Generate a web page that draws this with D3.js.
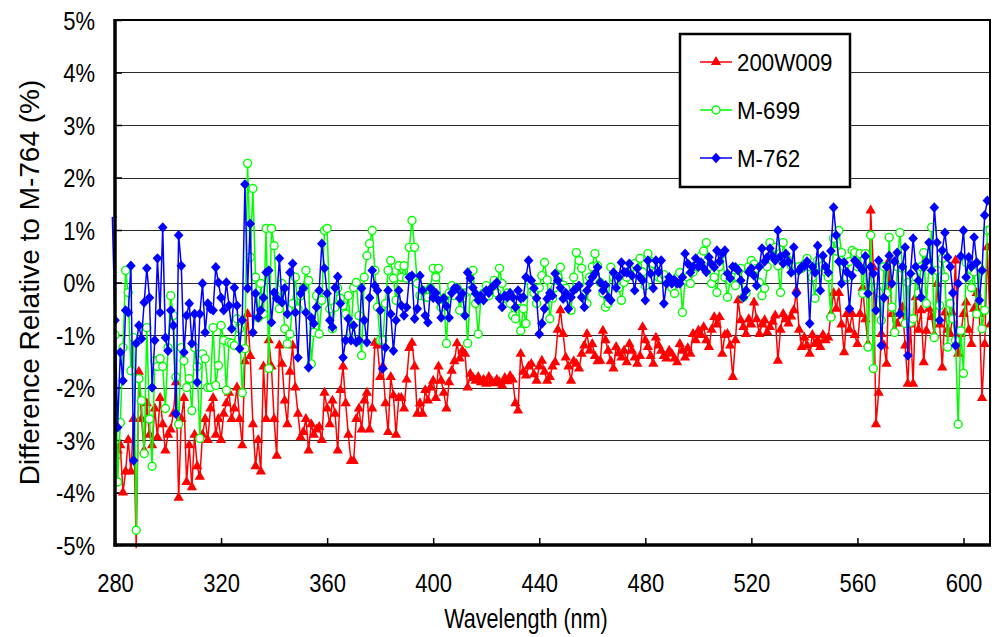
<!DOCTYPE html>
<html>
<head>
<meta charset="utf-8">
<script src="https://cdn.jsdelivr.net/npm/d3@7"></script>
<style>
  body { margin: 0; background: #fff; }
  text { font-family: "Liberation Sans", Arial, sans-serif; fill: #000; }
</style>
</head>
<body>
<div id="chart"></div>
<script>
// wavelength of the first sample of each series, then one sample per nm
const startNm = [280, 280, 279];
const xTicks = [280, 320, 360, 400, 440, 480, 520, 560, 600];
const yTicks = [-5, -4, -3, -2, -1, 0, 1, 2, 3, 4, 5];
const seriesNames = ['200W009', 'M-699', 'M-762'];

// 200W009 (% difference)
const red = [
  -3.3, -3.2, -3.1, -4.0, -3.6, -3.0, -3.6, -2.6, -5.05, -1.7,
  -2.6, -3.2, -2.3, -2.9, -3.1, -2.4, -2.95, -2.2, -2.7, -3.2,
  -2.9, -2.8, -2.5, -1.9, -4.1, -2.6, -2.2, -3.8, -3.1, -3.9,
  -2.9, -3.5, -3.7, -2.9, -2.6, -3.0, -2.4, -2.2, -2.9, -2.6,
  -3.0, -2.5, -2.3, -2.1, -2.6, -2.4, -2.0, -2.6, -3.1, -1.5,
  -0.6, -1.4, -2.7, -3.5, -3.0, -3.6, -1.6, -2.6, -1.1, -1.6,
  -2.6, -3.3, -1.2, -1.55, -2.25, -2.7, -1.7, -1.2, -2.0, -2.5,
  -2.95, -2.85, -2.6, -3.2, -2.7, -2.9, -2.8, -2.75, -3.0, -2.1,
  -2.4, -2.7, -2.25, -2.5, -3.2, -2.05, -1.6, -2.3, -2.9, -3.4,
  -3.4, -2.6, -2.4, -2.8, -2.25, -2.1, -2.8, -2.4, -1.15, -1.2,
  -1.8, -1.6, -2.3, -2.85, -1.8, -2.15, -2.9, -2.2, -2.2, -2.4,
  -1.85, -1.25, -1.15, -1.6, -2.5, -2.3, -2.5, -2.05, -2.25, -2.0,
  -1.87, -2.2, -1.6, -1.87, -2.1, -2.4, -1.9, -1.68, -1.5, -1.16,
  -1.45, -1.3, -1.36, -2.0, -1.74, -1.82, -1.87, -1.8, -1.9, -1.85,
  -1.93, -1.8, -1.88, -1.92, -1.85, -1.9, -1.96, -1.82, -1.88, -1.78,
  -1.85, -2.3, -2.44, -1.36, -1.7, -1.77, -1.6, -1.55, -1.75, -1.87,
  -1.6, -1.49, -1.7, -1.87, -1.8, -1.6, -1.52, -0.9, -0.53, -0.98,
  -1.43, -1.6, -1.87, -1.5, -1.55, -1.64, -1.36, -1.2, -0.98, -1.3,
  -1.17, -1.4, -1.5, -1.49, -0.92, -1.1, -1.3, -1.5, -1.64, -1.23,
  -1.35, -1.43, -1.3, -1.52, -1.17, -1.3, -1.43, -1.55, -1.4, -0.85,
  -1.1, -1.23, -1.4, -1.55, -1.05, -1.2, -1.3, -1.4, -1.45, -1.3,
  -1.36, -1.45, -1.52, -1.17, -1.3, -1.43, -1.25, -1.36, -0.98, -1.1,
  -0.92, -1.0, -0.85, -1.1, -1.23, -0.9, -0.66, -0.8, -0.66, -1.36,
  -1.0, -0.98, -1.2, -1.8, -1.1, -0.34, -0.72, -0.85, -0.98, -0.7,
  -0.8, -0.38, -0.7, -0.98, -0.8, -0.72, -0.95, -0.85, -0.75, -0.63,
  -1.49, -0.9, -0.6, -0.7, -0.78, -0.65, -0.53, -0.15, -0.9, -1.23,
  -1.05, -1.2, -1.36, -1.0, -1.17, -1.1, -1.23, -1.0, -1.1, -1.05,
  -0.6, -0.2, -0.5, -0.2, -0.8, -1.33, -0.6, -0.9, -0.6, -1.0,
  -1.17, -0.6, -0.1, -0.7, -1.17, 1.37, 0.29, -2.7, -2.1, -0.98,
  -1.2, -1.55, 0.42, -0.6, -0.9, -0.78, -0.6, -0.47, -1.2, -1.93,
  -0.8, -1.93, -0.28, -0.9, -0.53, -1.52, -0.92, -0.5, -0.66, -1.0,
  -0.03, -0.8, -1.62, -0.57, -0.9, -0.98, -0.6, 0.42, -1.36, -0.98,
  -0.6, -0.38, -0.9, -1.17, -0.5, -0.2, -0.6, -2.2, -1.17, 0.67,
  -0.8
];

// M-699
const green = [
  -1.0, -3.8, -2.67, -1.24, 0.23, -0.19, -1.68, -1.05, -4.72, -1.83,
  -2.25, -3.26, -0.86, -2.6, -3.5, -1.49, -1.6, -1.45, -1.6, -2.4,
  -1.24, -0.25, -0.63, -1.8, -2.7, -1.24, -1.49, -2.0, -1.83, -2.44,
  -1.24, -1.6, -2.97, -1.36, -1.45, -2.0, -2.0, -0.86, -1.96, -1.58,
  -0.82, -1.1, -2.05, -1.14, -1.16, -1.2, -0.69, -0.88, -2.1, -1.26,
  2.27, 0.48, 1.79, 0.1, -0.67, -0.02, -0.6, 1.03, -1.64, 1.03,
  0.7, -0.28, -0.5, -0.02, -0.88, -1.17, -0.98, -0.4, 0.1, -0.5,
  -0.25, -0.1, 0.23, 0.04, -1.55, -0.95, -0.25, -0.98, -0.34, 0.99,
  1.03, -0.5, -0.88, -0.47, -0.11, -0.3, -0.44, -0.6, -0.25, -0.95,
  -0.1, 0.0, -0.63, -1.39, 0.1, 0.51, 0.74, 0.99, 0.23, -0.47,
  -1.1, -1.1, -0.4, 0.23, 0.42, 0.08, -0.34, 0.32, 0.1, 0.32,
  0.08, 0.67, 1.18, 0.67, -0.02, -0.25, -0.15, -0.28, -0.28, -0.1,
  0.27, 0.1, 0.27, -0.47, -0.3, -1.16, -0.2, -0.06, -0.25, -0.1,
  -0.53, -0.3, -0.2, -1.16, -0.15, 0.23, -0.4, -0.98, -0.3, -0.2,
  -0.06, -0.25, -0.15, 0.04, -0.2, 0.27, -0.02, -0.3, -0.2, -0.4,
  -0.63, -0.69, -0.35, -0.92, -0.5, -0.78, 0.04, -0.06, -0.2, -0.4,
  -0.1, 0.13, 0.38, 0.05, -0.69, -0.3, -0.1, 0.1, 0.29, -0.05,
  -0.11, -0.3, -0.53, 0.1, 0.57, 0.42, 0.27, -0.1, -0.4, 0.1,
  0.3, 0.55, 0.32, 0.0, -0.2, -0.47, -0.4, 0.29, 0.1, 0.04,
  -0.1, -0.34, 0.0, 0.1, 0.2, 0.3, 0.36, 0.2, 0.46, 0.2,
  -0.06, 0.55, 0.4, 0.36, 0.2, 0.1, 0.08, 0.15, 0.05, -0.02,
  -0.1, -0.21, 0.1, 0.19, -0.57, 0.04, 0.1, -0.02, 0.2, 0.3,
  0.4, 0.5, 0.6, 0.76, 0.3, -0.02, 0.1, -0.19, 0.3, 0.55,
  0.1, -0.28, 0.04, 0.1, -0.06, 0.1, 0.27, -0.28, -0.2, 0.3,
  0.42, 0.35, 0.27, 0.0, -0.25, -0.11, 0.3, 0.76, 0.5, 0.67,
  0.32, -0.19, 0.76, 0.5, 0.42, 0.32, 0.3, 0.23, 0.3, 0.27,
  0.35, 0.46, 0.3, 0.1, -0.3, 0.42, 0.3, 0.32, 0.2, 0.1,
  -0.66, 0.84, 0.6, 0.99, 0.57, 0.3, 0.1, 0.4, 0.61, 0.57,
  0.3, 0.55, -0.21, 0.55, -1.23, 0.9, -1.64, -0.1, -0.19, -0.72,
  0.3, -0.2, 0.86, -0.47, -0.95, 0.3, 0.95, 0.27, -0.78, 0.0,
  -0.76, -0.69, 0.1, -0.2, 0.3, 0.57, -0.4, 0.3, 1.05, -1.05,
  0.23, -0.44, 0.46, 0.1, -1.23, -0.4, -0.69, -1.1, -2.7, -0.92,
  -1.73, 0.38, 0.1, -0.1, 0.2, -0.6, 0.29, -0.88, -0.53, 0.99,
  1.0
];

// M-762
const blue = [
  1.25, -0.72, -2.76, -1.33, -1.87, -0.53, -0.57, 0.32, -3.39, -1.16,
  -0.82, -1.07, -0.38, 0.27, -0.29, -2.0, -1.1, 0.46, -0.57, 1.05,
  -1.05, -1.3, -0.53, -0.82, -2.5, 0.9, 0.32, -1.33, -0.63, -0.4,
  -1.16, -0.6, -1.9, -0.6, -0.02, -0.95, -0.4, -0.5, -0.53, 0.29,
  0.0, -0.29, -0.53, 0.0, -0.44, -0.88, -0.1, -0.44, -1.26, -0.72,
  1.87, -0.11, 1.12, -0.95, -0.21, -0.67, -0.53, -0.29, 0.19, 0.23,
  -0.76, -0.19, -0.3, 0.46, -0.38, -0.11, -0.6, 0.19, 0.36, -0.57,
  -1.43, -0.21, -0.11, -0.57, -1.62, -0.67, -0.78, -0.47, -0.15, 0.74,
  0.27, -0.21, -0.72, -0.85, -0.1, 0.11, -0.4, -1.43, -1.1, -0.69,
  -1.1, -0.82, -1.14, -1.1, -0.11, -0.72, -1.14, -0.29, 0.23, -0.06,
  -0.15, -0.53, -1.64, -1.24, -0.15, -0.6, -1.3, -0.72, -0.15, -0.44,
  -0.63, -0.47, 0.1, 0.13, -0.69, -0.5, 0.13, -0.15, -0.63, -0.76,
  -0.11, -0.29, -0.2, -0.34, -0.67, -0.3, -0.45, -0.67, -0.2, -0.11,
  -0.11, -0.3, -0.21, -0.63, 0.19, 0.08, -0.1, -0.21, -0.34, -0.25,
  -0.34, -0.15, -0.2, -0.1, -0.05, 0.0, -0.3, -0.47, -0.25, -0.28,
  -0.2, -0.28, -0.47, -0.15, -0.3, -0.28, 0.1, 0.42, 0.04, -0.11,
  -0.3, -0.98, -0.78, -0.5, -0.31, -0.2, -0.25, 0.17, 0.04, -0.1,
  -0.31, -0.2, -0.5, -0.28, -0.15, -0.11, -0.06, -0.28, -0.47, -0.15,
  -0.02, 0.1, 0.17, 0.29, 0.0, -0.15, -0.05, -0.28, -0.34, 0.19,
  -0.1, 0.1, 0.38, 0.2, 0.19, 0.36, 0.13, -0.15, 0.27, 0.1,
  0.04, -0.34, 0.42, 0.17, -0.11, 0.42, 0.2, 0.42, -0.4, -0.02,
  0.1, -0.02, 0.05, -0.02, -0.02, 0.1, 0.55, 0.36, 0.19, 0.3,
  0.46, 0.3, 0.38, 0.27, 0.2, 0.48, 0.35, 0.29, 0.61, 0.4,
  0.55, 0.61, 0.17, 0.08, 0.3, 0.29, 0.23, 0.04, -0.28, -0.15,
  0.2, 0.27, 0.13, -0.06, 0.3, 0.65, 0.4, 0.48, 0.65, 0.5,
  0.42, 0.99, 0.5, 0.36, 0.55, 0.4, 0.19, 0.67, -0.21, 0.23,
  0.3, 0.32, 0.4, -0.78, 0.3, 0.19, 0.7, -0.15, 0.51, 0.3,
  0.19, 0.6, 1.43, 0.9, 0.4, -0.02, 0.38, 0.2, -0.5, 0.13,
  0.42, 0.36, 0.3, 0.23, 0.5, -0.21, 0.3, 0.17, -0.53, 0.42,
  -1.2, -0.29, 0.3, 0.51, -0.02, 0.4, 0.57, -0.6, 0.3, 0.67,
  -1.39, 0.17, 0.84, 0.3, 0.04, -0.28, 0.29, 0.4, 0.76, 0.23,
  1.43, 0.76, -0.72, 0.61, 0.95, 0.48, 0.3, -0.2, -1.2, -0.02,
  0.5, 0.99, 0.1, 0.48, 0.3, 0.86, 0.38, -0.34, 0.23, 1.28,
  1.56
];

const width = 992, height = 637;
const plot = { left: 115, right: 990, top: 20, bottom: 545 };
const squeeze = 0.88; // horizontal text in the original is narrow for its height

const x = d3.scaleLinear().domain([280, 610]).range([plot.left, plot.right]);
const y = d3.scaleLinear().domain([-5, 5]).range([plot.bottom, plot.top]);

const svg = d3.select('#chart').append('svg')
  .attr('width', width)
  .attr('height', height);

svg.append('defs').append('clipPath').attr('id', 'plotclip')
  .append('rect')
  .attr('x', plot.left).attr('y', plot.top)
  .attr('width', plot.right - plot.left).attr('height', plot.bottom - plot.top);

// horizontal gridlines
svg.append('g')
  .selectAll('line')
  .data(yTicks.filter(d => d > -5 && d < 5))
  .enter().append('line')
  .attr('x1', plot.left).attr('x2', plot.right)
  .attr('y1', d => Math.round(y(d)) + 0.5)
  .attr('y2', d => Math.round(y(d)) + 0.5)
  .attr('stroke', '#2b2b2b')
  .attr('stroke-width', 1);

// axes
const yAxis = svg.append('g')
  .attr('transform', 'translate(' + plot.left + ',0)')
  .call(d3.axisLeft(y).tickValues(yTicks).tickSize(-7).tickFormat(d => d + '%'));
yAxis.select('.domain').remove();
yAxis.selectAll('line').attr('stroke', '#000').attr('stroke-width', 1.5);
yAxis.selectAll('text')
  .attr('x', -20 / squeeze)
  .attr('dy', '0.36em')
  .attr('transform', 'scale(' + squeeze + ',1)')
  .style('font-size', '25px')
  .style('font-family', '"Liberation Sans", Arial, sans-serif');

const xAxis = svg.append('g')
  .attr('transform', 'translate(0,' + plot.bottom + ')')
  .call(d3.axisBottom(x).tickValues(xTicks).tickSize(-7).tickFormat(d3.format('d')));
xAxis.select('.domain').remove();
xAxis.selectAll('line').attr('stroke', '#000').attr('stroke-width', 1.5);
xAxis.selectAll('text')
  .attr('y', 47)
  .attr('dy', 0)
  .attr('transform', 'scale(' + squeeze + ',1)')
  .style('font-size', '25px')
  .style('font-family', '"Liberation Sans", Arial, sans-serif');

// axis titles
svg.append('text')
  .attr('transform', 'translate(526,628) scale(0.8,1)')
  .attr('text-anchor', 'middle')
  .style('font-size', '27px')
  .text('Wavelength (nm)');

svg.append('text')
  .attr('transform', 'translate(39,' + ((plot.top + plot.bottom) / 2) + ') rotate(-90)')
  .attr('text-anchor', 'middle')
  .style('font-size', '28px')
  .text('Difference Relative to M-764 (%)');

// series
const diamond = 'M0,-5.2L4.8,0L0,5.2L-4.8,0Z';
const series = [
  { name: seriesNames[0], values: red, start: startNm[0], color: '#ff0000', shape: 'triangle' },
  { name: seriesNames[1], values: green, start: startNm[1], color: '#00ff00', shape: 'circle' },
  { name: seriesNames[2], values: blue, start: startNm[2], color: '#0000ff', shape: 'diamond' }
];

function addMarker(sel, s) {
  if (s.shape === 'circle') {
    sel.append('circle')
      .attr('r', 4)
      .attr('fill', '#fff')
      .attr('stroke', s.color)
      .attr('stroke-width', 1.4);
  } else if (s.shape === 'triangle') {
    sel.append('path')
      .attr('d', d3.symbol().type(d3.symbolTriangle).size(46)())
      .attr('fill', s.color);
  } else {
    sel.append('path')
      .attr('d', diamond)
      .attr('fill', s.color);
  }
}

series.forEach(s => {
  const lineGen = d3.line()
    .x((d, i) => x(s.start + i))
    .y(d => y(d));
  const g = svg.append('g');
  g.append('path')
    .datum(s.values)
    .attr('d', lineGen)
    .attr('fill', 'none')
    .attr('stroke', s.color)
    .attr('stroke-width', 1.5)
    .attr('stroke-linejoin', 'round');
  const pts = g.append('g').attr('clip-path', 'url(#plotclip)')
    .selectAll('g')
    .data(s.values)
    .enter().append('g')
    .attr('transform', (d, i) => 'translate(' + x(s.start + i) + ',' + y(d) + ')');
  addMarker(pts, s);
});

// plot frame
svg.append('rect')
  .attr('x', plot.left).attr('y', plot.top)
  .attr('width', plot.right - plot.left).attr('height', plot.bottom - plot.top)
  .attr('fill', 'none')
  .attr('stroke', '#000')
  .attr('stroke-width', 2);
svg.append('line')
  .attr('x1', plot.left).attr('x2', plot.left)
  .attr('y1', plot.top - 1).attr('y2', plot.bottom + 1.5)
  .attr('stroke', '#000').attr('stroke-width', 3.5);
svg.append('line')
  .attr('x1', plot.left - 1.5).attr('x2', plot.right + 1)
  .attr('y1', plot.bottom).attr('y2', plot.bottom)
  .attr('stroke', '#000').attr('stroke-width', 3.5);

// legend
const legend = svg.append('g');
legend.append('rect')
  .attr('x', 680).attr('y', 34)
  .attr('width', 170).attr('height', 153)
  .attr('fill', '#fff')
  .attr('stroke', '#000')
  .attr('stroke-width', 2.5);

const items = legend.selectAll('g.item')
  .data(series)
  .enter().append('g')
  .attr('class', 'item')
  .attr('transform', (d, i) => 'translate(700,' + (62 + i * 48) + ')');
items.append('line')
  .attr('x1', 0).attr('x2', 32)
  .attr('stroke', d => d.color)
  .attr('stroke-width', 1.5);
items.each(function(d) {
  const m = d3.select(this).append('g').attr('transform', 'translate(16,0)');
  addMarker(m, d);
});
items.append('text')
  .attr('transform', 'translate(37,0) scale(0.93,1)')
  .attr('dy', '0.36em')
  .style('font-size', '24px')
  .text(d => d.name);
</script>
</body>
</html>
